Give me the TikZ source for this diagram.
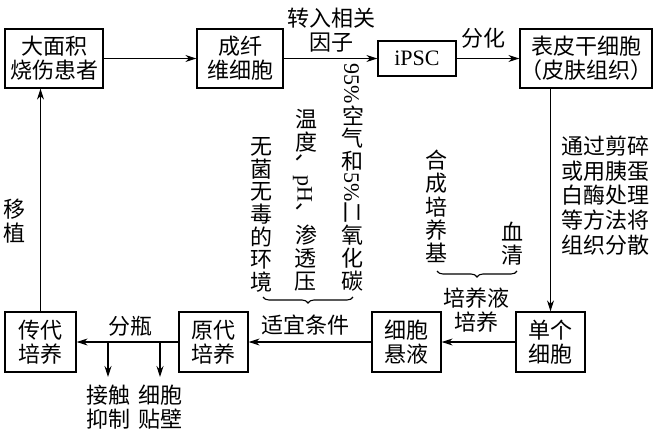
\documentclass[tikz,border=0pt]{standalone}
\usepackage{fontspec}
\setmainfont{Liberation Serif}
\newfontfamily\cjk{Noto Sans CJK SC}
\usetikzlibrary{arrows.meta,decorations.pathreplacing}
\newcommand{\uc}[1]{\makebox[1.04em]{\rotatebox[origin=c]{90}{#1}}}
\begin{document}
\begin{tikzpicture}[x=1pt,y=-1pt,
  box/.style={draw, line width=1.3pt, align=center, inner sep=0pt, font=\cjk\fontsize{22}{24}\selectfont},
  lbl/.style={align=center, inner sep=0pt, font=\cjk\fontsize{22}{24}\selectfont},
  arr/.style={line width=1.1pt, -{Stealth[length=11pt,width=7pt]}},
  ln/.style={line width=1.1pt},
  brc/.style={decorate, decoration={brace, amplitude=6pt}, line width=1.1pt}]
\useasboundingbox (0,0) rectangle (659,434);
\fill[white] (0,0) rectangle (659,434);
% boxes
\node[box, minimum width=98pt, minimum height=59pt] (A) at (54,58.5) {大面积\\烧伤患者};
\node[box, minimum width=86pt, minimum height=59pt] (B) at (240,58.5) {成纤\\维细胞};
\node[box, minimum width=78pt, minimum height=35pt, font=\rmfamily\fontsize{22}{24}\selectfont] (C) at (417,58.5) {iPSC};
\node[box, minimum width=132pt, minimum height=59pt] (D) at (586,58.5) {表皮干细胞\\（皮肤组织）};
\node[box, minimum width=69pt, minimum height=60pt] (E) at (550.5,342) {单个\\细胞};
\node[box, minimum width=69pt, minimum height=60pt] (F) at (406.5,342) {细胞\\悬液};
\node[box, minimum width=69pt, minimum height=60pt] (G) at (213.5,342) {原代\\培养};
\node[box, minimum width=71pt, minimum height=60pt] (H) at (40.5,342) {传代\\培养};
% connectors
\draw[arr] (A) -- (B);
\draw[arr] (B) -- (C);
\draw[arr] (C) -- (D);
\draw[arr] (E.north |- D.south) -- (E.north);
\draw[arr] (E) -- (F);
\draw[arr] (F) -- (G);
\draw[arr] (G) -- (H);
\draw[arr] (H.north) -- (H.north |- A.south);
\coordinate (b1) at (108,342);
\coordinate (b1e) at (108,377);
\coordinate (b2) at (160,342);
\coordinate (b2e) at (160,377);
\draw[arr] (b1) -- (b1e);
\draw[arr] (b2) -- (b2e);
% labels
\node[lbl] (t1) at (331,30) {转入相关\\因子};
\node[lbl] (t2) at (483,38) {分化};
\node[lbl] (t3) at (130,326) {分瓶};
\node[lbl] (t4) at (305,325) {适宜条件};
\node[lbl] (t5) at (476,310) {培养液\\培养};
\node[lbl] (t6) at (15,221) {移\\植};
\node[lbl] (t7) at (108,407) {接触\\抑制};
\node[lbl] (t8) at (160,407) {细胞\\贴壁};
\node[lbl, font=\cjk\fontsize{22}{24.7}\selectfont] (t9) at (605,195.5) {通过剪碎\\或用胰蛋\\白酶处理\\等方法将\\组织分散};
\node[lbl, font=\cjk\fontsize{22}{23.3}\selectfont] (t10) at (436,206.5) {合\\成\\培\\养\\基};
\node[lbl, font=\cjk\fontsize{22}{23.3}\selectfont] (t11) at (512,243.5) {血\\清};
\node[lbl, font=\cjk\fontsize{22}{22.7}\selectfont] (t12) at (261,215) {无\\菌\\无\\毒\\的\\环\\境};
\node[lbl, rotate=-90] (t13) at (305,200) {\uc{温}\uc{度}、{\rmfamily pH}、\uc{渗}\uc{透}\uc{压}};
\node[lbl, rotate=-90] (t14) at (353,178) {{\rmfamily 95\%}\uc{空}\uc{气}\uc{和}{\rmfamily 5\%}二\uc{氧}\uc{化}\uc{碳}};
% braces
\draw[brc] (353,297) -- (263,297);
\draw[brc] (517,271) -- (437,271);
\end{tikzpicture}
\end{document}
